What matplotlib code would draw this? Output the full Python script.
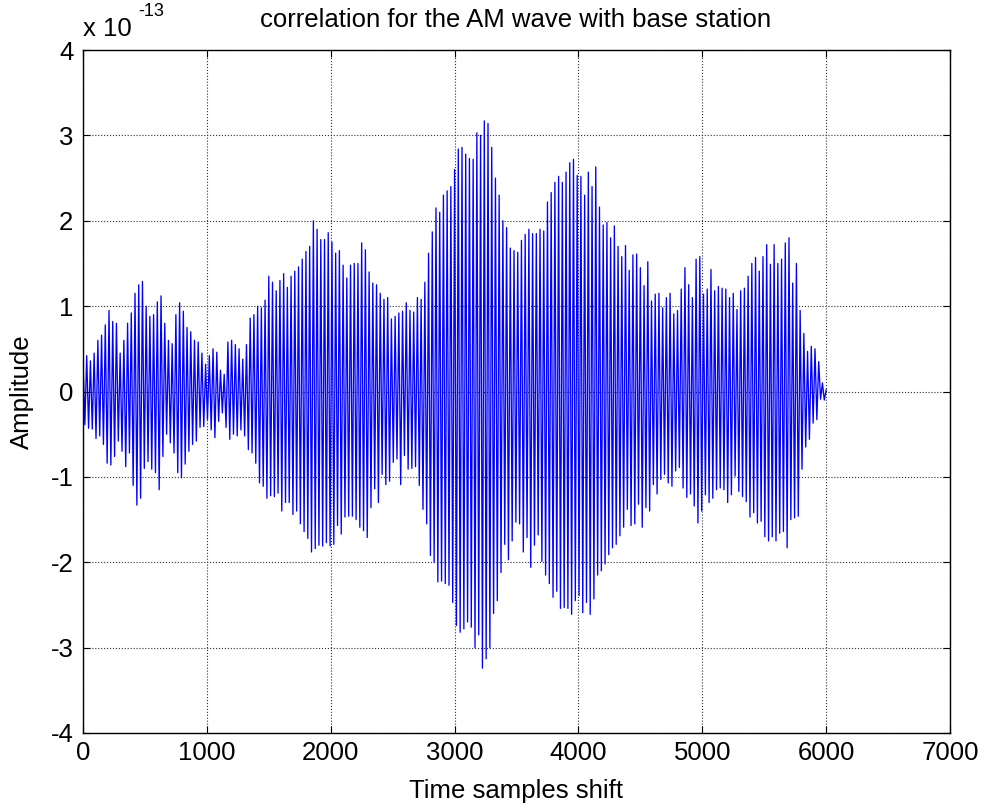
import numpy as np
import matplotlib
matplotlib.use("Agg")
import matplotlib.pyplot as plt

plt.rcParams['font.family'] = ['Liberation Sans', 'DejaVu Sans']

title = "correlation for the AM wave with base station"
xlabel = "Time samples shift"
ylabel = "Amplitude"
exponent = -13

# upper peaks of the oscillation (units of 1e-13), read at samples 0, 30, ..., 6000
upper_samples = np.arange(0, 6001, 30)
upper_vals = [
    # 0 .. 990
    0.37, 0.42, 0.36, 0.45, 0.60, 0.66, 0.78, 0.95, 0.82, 0.80,
    0.45, 0.60, 0.80, 0.92, 1.15, 1.25, 1.29, 1.00, 0.88, 0.90,
    1.05, 1.12, 0.80, 0.60, 0.56, 0.90, 1.04, 0.94, 0.75, 0.70,
    0.60, 0.58, 0.45, 0.32,
    # 1020 .. 2010
    0.42, 0.50, 0.46, 0.25, 0.20, 0.58, 0.60, 0.55, 0.50, 0.38,
    0.55, 0.86, 0.90, 1.00, 0.98, 1.07, 1.35, 1.28, 1.18, 1.30,
    1.38, 1.22, 1.35, 1.41, 1.46, 1.55, 1.64, 1.70, 2.00, 1.90,
    1.78, 1.78, 1.86, 1.75,
    # 2040 .. 3000
    1.62, 1.65, 1.48, 1.33, 1.48, 1.50, 1.50, 1.74, 1.66, 1.40,
    1.27, 1.25, 1.15, 1.08, 1.10, 0.85, 0.88, 0.92, 0.94, 1.04,
    0.95, 0.93, 1.10, 1.08, 1.28, 1.62, 1.87, 2.15, 2.10, 2.30,
    2.35, 2.40, 2.60,
    # 3030 .. 4020
    2.84, 2.86, 2.78, 2.73, 2.72, 3.03, 3.00, 3.17, 3.14, 2.86,
    2.50, 2.30, 2.00, 1.92, 1.68, 1.65, 1.63, 1.77, 1.84, 1.90,
    1.85, 1.85, 1.90, 1.88, 2.22, 2.33, 2.45, 2.52, 2.45, 2.57,
    2.68, 2.72, 2.53, 2.52,
    # 4050 .. 5010
    2.30, 2.57, 2.40, 2.63, 2.16, 1.95, 1.98, 1.80, 1.94, 1.70,
    1.58, 1.71, 1.42, 1.60, 1.61, 1.45, 1.24, 1.52, 1.06, 1.14,
    1.15, 0.98, 1.10, 1.15, 0.91, 0.95, 1.20, 1.45, 1.25, 1.10,
    1.55, 1.58, 1.14,
    # 5040 .. 6000
    1.20, 1.43, 1.18, 1.23, 1.21, 1.20, 1.10, 1.15, 0.96, 1.18,
    1.21, 1.35, 1.50, 1.57, 1.41, 1.58, 1.72, 1.49, 1.72, 1.50,
    1.55, 1.74, 1.80, 1.27, 1.50, 0.95, 0.68, 0.47, 0.53, 0.50,
    0.35, 0.10, 0.02,
]

# lower peaks of the oscillation (units of 1e-13), read at samples 15, 45, ..., 5985
lower_samples = np.arange(15, 6000, 30)
lower_vals = [
    # 15 .. 975
    -0.39, -0.43, -0.44, -0.55, -0.52, -0.62, -0.84, -0.86, -0.76, -0.58,
    -0.70, -0.88, -0.72, -1.10, -1.33, -1.25, -0.90, -0.82, -0.91, -0.95,
    -1.15, -0.76, -0.50, -0.60, -0.72, -0.95, -1.01, -0.85, -0.70, -0.62,
    -0.58, -0.42, -0.41,
    # 1005 .. 1995
    -0.33, -0.45, -0.54, -0.35, -0.25, -0.42, -0.56, -0.50, -0.52, -0.45,
    -0.52, -0.68, -0.72, -0.84, -1.07, -1.11, -1.25, -1.22, -1.23, -1.19,
    -1.40, -1.30, -1.30, -1.44, -1.40, -1.55, -1.64, -1.72, -1.88, -1.84,
    -1.80, -1.81, -1.77, -1.81,
    # 2025 .. 2985
    -1.79, -1.57, -1.67, -1.47, -1.46, -1.46, -1.50, -1.59, -1.63, -1.71,
    -1.36, -1.14, -1.30, -0.97, -1.09, -1.05, -0.83, -0.79, -1.09, -0.75,
    -0.91, -0.90, -0.88, -1.10, -1.38, -1.55, -1.92, -2.00, -2.23, -2.22,
    -2.25, -2.27, -2.47,
    # 3015 .. 4005
    -2.74, -2.82, -2.78, -2.70, -2.76, -3.00, -2.85, -3.24, -3.13, -3.00,
    -2.60, -2.45, -2.12, -1.79, -1.97, -1.75, -1.53, -1.55, -1.88, -1.71,
    -2.06, -1.80, -1.68, -1.99, -2.15, -2.25, -2.41, -2.34, -2.54, -2.53,
    -2.54, -2.61, -2.45, -2.39,
    # 4035 .. 4995
    -2.59, -2.47, -2.61, -2.43, -2.15, -2.10, -2.02, -1.91, -1.83, -1.79,
    -1.69, -1.59, -1.38, -1.57, -1.55, -1.32, -1.59, -1.36, -1.40, -1.09,
    -1.20, -1.03, -0.97, -1.07, -1.11, -0.93, -0.89, -1.13, -1.24, -1.20,
    -1.34, -1.54, -1.40,
    # 5025 .. 5985
    -1.21, -1.30, -1.25, -1.15, -1.13, -1.15, -1.30, -1.21, -0.99, -1.17,
    -1.23, -1.29, -1.47, -1.42, -1.54, -1.52, -1.70, -1.75, -1.70, -1.75,
    -1.66, -1.64, -1.83, -1.50, -1.48, -1.46, -0.91, -0.65, -0.56, -0.37,
    -0.33, -0.09, -0.10,
]

xticks = [0, 1000, 2000, 3000, 4000, 5000, 6000, 7000]
yticks = [-4, -3, -2, -1, 0, 1, 2, 3, 4]

# interleave peaks into one trace
xs = np.empty(len(upper_samples) + len(lower_samples))
ys = np.empty_like(xs)
xs[0::2] = upper_samples
ys[0::2] = upper_vals
xs[1::2] = lower_samples
ys[1::2] = lower_vals

FS = 18.5
W, H = 986, 808
fig = plt.figure(figsize=(W/100, H/100), dpi=100)
ax = fig.add_axes([83/W, 1-733/H, (950-83)/W, (733-50)/H])
ax.plot(xs, ys, color='#0000ff', lw=0.95)

ax.set_xlim(0, 7000)
ax.set_ylim(-4, 4)
ax.set_xticks(xticks)
ax.set_yticks(yticks)
ax.set_xticklabels([str(t) for t in xticks])
ax.set_yticklabels([str(t) for t in yticks])
ax.grid(True, linestyle=':', color='#303030', lw=0.8)
ax.tick_params(direction='in', top=True, right=True, length=5, width=0.8,
               labelsize=FS, colors='black')
ax.tick_params(axis='x', pad=6)
ax.tick_params(axis='y', pad=7)
for s in ax.spines.values():
    s.set_linewidth(1.0)
    s.set_color('black')

fig.text(516/W, 1-20/H, title, fontsize=FS, ha='center', va='center')
fig.text(516/W, 1-791/H, xlabel, fontsize=FS, ha='center', va='center')
fig.text(22/W, 1-392/H, ylabel, fontsize=FS, ha='center', va='center', rotation=90)

fig.text(83/W, 1-29/H, "x 10", fontsize=FS, ha='left', va='center')
fig.text(138/W, 1-12/H, str(exponent), fontsize=13, ha='left', va='center')

fig.savefig("out.png", dpi=100)
